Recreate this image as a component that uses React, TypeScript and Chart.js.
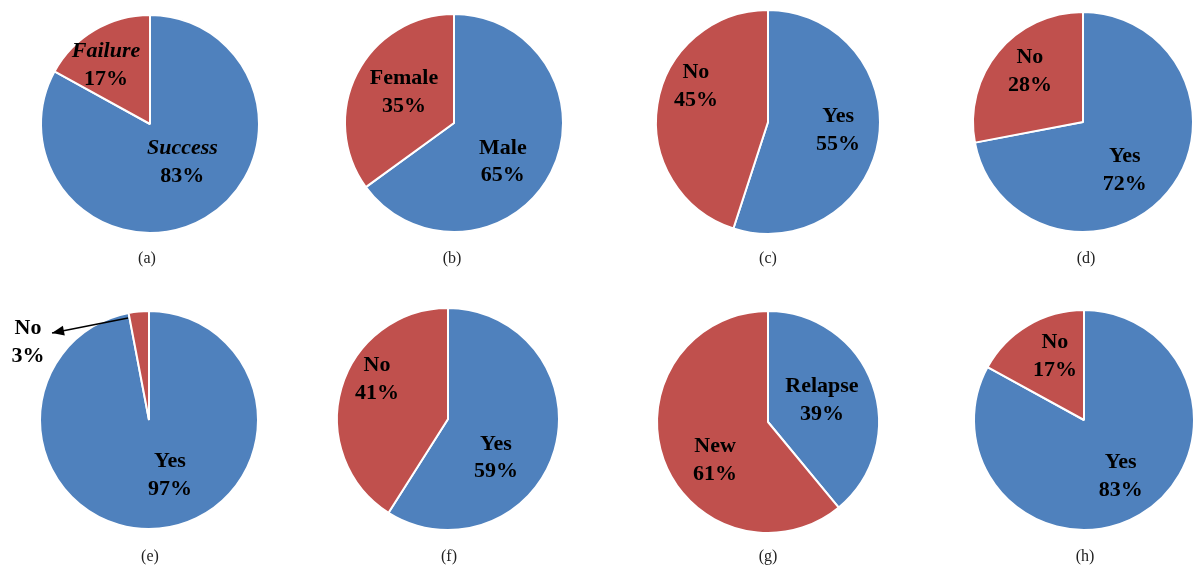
import React, { useEffect, useRef } from 'react';
import { Chart, registerables } from 'chart.js';

Chart.register(...registerables);

// ---- data ----
const panelTags = ['(a)', '(b)', '(c)', '(d)', '(e)', '(f)', '(g)', '(h)'];
const sliceNames = [
  ['Success', 'Failure'],
  ['Male', 'Female'],
  ['Yes', 'No'],
  ['Yes', 'No'],
  ['Yes', 'No'],
  ['Yes', 'No'],
  ['Relapse', 'New'],
  ['Yes', 'No'],
];
const sliceValues = [
  [83, 17],
  [65, 35],
  [55, 45],
  [72, 28],
  [97, 3],
  [59, 41],
  [39, 61],
  [83, 17],
];
const sliceColors = ['#4F81BD', '#C0504D'];

// ---- layout / style ----
const centers = [
  [150, 124], [454, 123], [768, 122], [1083, 122],
  [149, 420], [448, 419], [768, 422], [1084, 420],
];
const radii = [109, 109, 112, 110, 109, 111, 111, 110];
const labelFrac = [
  [0.46, 0.675], [0.57, 0.54], [0.63, 0.72], [0.58, 0.67],
  [0.54, 1.32], [0.554, 0.734], [0.525, 0.587], [0.61, 0.64],
];
const labelAdj = [
  [-9.6, -6.1], [11.2, 4.8], [-2.5, 17.6], [9.5, 4.3],
  [-15.5, -51.8], [22.5, 13.2], [-2.4, -15.8], [-2.6, 6.2],
];
const italicPanels = [true, false, false, false, false, false, false, false];
// arrow: [panel, slice, startAdj, startFrac, endAdj, endFrac]
const arrows = [[4, 1, -6.2, 0.955, -42.7, 1.195]];
const captionY = [258, 258, 258, 258, 556, 556, 556, 556];
const captionX = [147, 452, 768, 1086, 150, 449, 768, 1085];

const CW = 300;
const CH = 300;
const BW = 2;
const FONT = '"Liberation Serif", "Times New Roman", serif';

function PiePanel({ idx }: { idx: number }) {
  const ref = useRef<HTMLCanvasElement | null>(null);
  useEffect(() => {
    if (!ref.current) return;
    const r = radii[idx];
    const D = 2 * r + BW;
    const pad = (CW - D) / 2;
    const nameFont = (italicPanels[idx] ? 'italic ' : '') + 'bold 22px ' + FONT;
    const valFont = 'bold 22px ' + FONT;
    const labelPlugin = {
      id: 'sliceLabels',
      afterDatasetsDraw(chart: any) {
        const ctx = chart.ctx;
        const meta = chart.getDatasetMeta(0);
        ctx.save();
        ctx.fillStyle = '#000';
        ctx.textAlign = 'center';
        ctx.textBaseline = 'middle';
        meta.data.forEach((arc: any, i: number) => {
          const p = arc.getProps(['x', 'y', 'startAngle', 'endAngle', 'outerRadius'], true);
          const mid = (p.startAngle + p.endAngle) / 2 + (labelAdj[idx][i] * Math.PI) / 180;
          const d = labelFrac[idx][i] * p.outerRadius;
          const lx = p.x + Math.cos(mid) * d;
          const ly = p.y + Math.sin(mid) * d;
          ctx.font = nameFont;
          ctx.fillText(sliceNames[idx][i], lx, ly - 13.5);
          ctx.font = valFont;
          ctx.fillText(sliceValues[idx][i] + '%', lx, ly + 14);
        });
        arrows.forEach((a) => {
          if (a[0] !== idx) return;
          const arc = meta.data[a[1]];
          const p = arc.getProps(['x', 'y', 'startAngle', 'endAngle', 'outerRadius'], true);
          const m = (p.startAngle + p.endAngle) / 2;
          const s = m + (a[2] * Math.PI) / 180;
          const e = m + (a[4] * Math.PI) / 180;
          const sx = p.x + Math.cos(s) * a[3] * p.outerRadius;
          const sy = p.y + Math.sin(s) * a[3] * p.outerRadius;
          const ex = p.x + Math.cos(e) * a[5] * p.outerRadius;
          const ey = p.y + Math.sin(e) * a[5] * p.outerRadius;
          ctx.strokeStyle = '#000';
          ctx.lineWidth = 1.5;
          ctx.beginPath();
          ctx.moveTo(sx, sy);
          ctx.lineTo(ex, ey);
          ctx.stroke();
          const ang = Math.atan2(ey - sy, ex - sx);
          const hl = 12;
          const hw = 5;
          ctx.beginPath();
          ctx.moveTo(ex, ey);
          ctx.lineTo(ex - hl * Math.cos(ang) + hw * Math.sin(ang), ey - hl * Math.sin(ang) - hw * Math.cos(ang));
          ctx.lineTo(ex - hl * Math.cos(ang) - hw * Math.sin(ang), ey - hl * Math.sin(ang) + hw * Math.cos(ang));
          ctx.closePath();
          ctx.fill();
        });
        ctx.restore();
      },
    };
    const chart = new Chart(ref.current, {
      type: 'pie',
      data: {
        labels: sliceNames[idx],
        datasets: [
          {
            data: sliceValues[idx],
            backgroundColor: sliceColors,
            borderColor: '#ffffff',
            borderWidth: BW,
            hoverOffset: 0,
            offset: 0,
          },
        ],
      },
      options: {
        animation: false,
        responsive: false,
        maintainAspectRatio: false,
        events: [],
        layout: { padding: { left: pad, right: pad, top: pad, bottom: pad } },
        plugins: { legend: { display: false }, tooltip: { enabled: false } },
      },
      plugins: [labelPlugin],
    } as any);
    return () => chart.destroy();
  }, [idx]);
  const [cx, cy] = centers[idx];
  return (
    <canvas
      ref={ref}
      width={CW}
      height={CH}
      style={{ position: 'absolute', left: cx - CW / 2, top: cy - CH / 2, width: CW, height: CH }}
    />
  );
}

export default function App() {
  return (
    <div
      style={{
        position: 'absolute',
        left: 0,
        top: 0,
        width: 1194,
        height: 570,
        overflow: 'hidden',
        background: '#ffffff',
      }}
    >
      {panelTags.map((_, i) => (
        <PiePanel key={i} idx={i} />
      ))}
      {panelTags.map((t, i) => (
        <div
          key={'c' + i}
          style={{
            position: 'absolute',
            left: captionX[i] - 40,
            top: captionY[i] - 10,
            width: 80,
            height: 20,
            lineHeight: '20px',
            textAlign: 'center',
            fontFamily: FONT,
            fontSize: 16,
            color: '#222',
          }}
        >
          {t}
        </div>
      ))}
    </div>
  );
}
